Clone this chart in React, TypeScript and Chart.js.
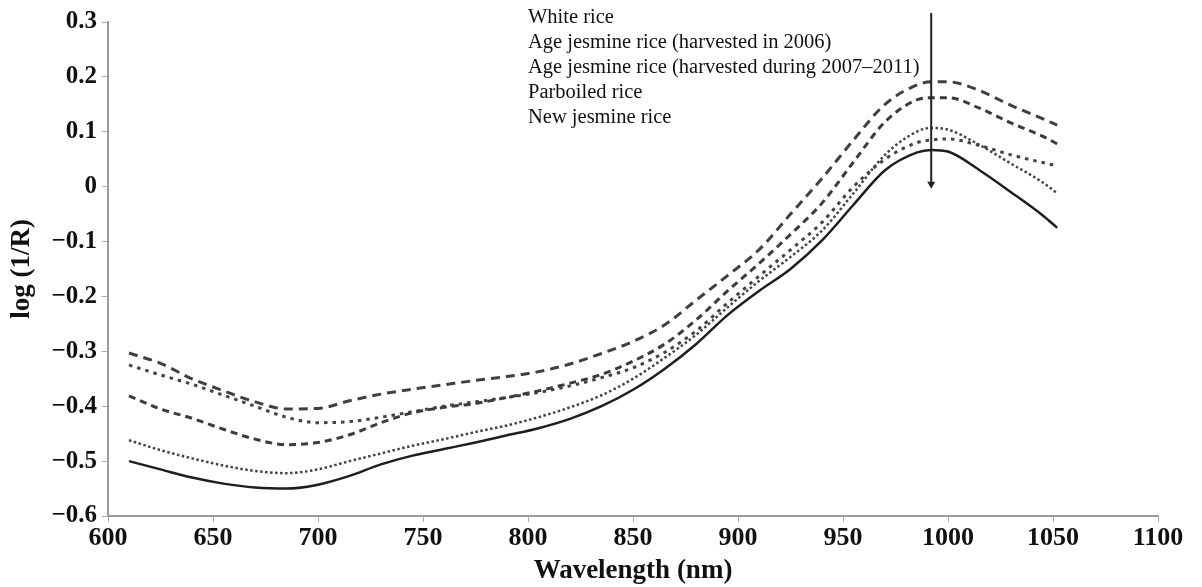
import React, { useEffect, useRef } from "react";
import { Chart, registerables } from "chart.js";

Chart.register(...registerables);

// Wavelength samples (nm)
const wavelengths = [610, 625, 640, 655, 670, 685, 700, 715, 730, 745, 760, 775, 790, 805, 820, 835, 850, 865, 880, 895, 910, 925, 940, 955, 970, 985, 992, 1000, 1015, 1030, 1045, 1052];

// log(1/R) series
const whiteRice = [-0.303, -0.322, -0.35, -0.372, -0.392, -0.405, -0.404, -0.39, -0.378, -0.369, -0.361, -0.353, -0.346, -0.337, -0.323, -0.304, -0.282, -0.252, -0.207, -0.162, -0.115, -0.05, 0.015, 0.085, 0.15, 0.185, 0.191, 0.191, 0.175, 0.148, 0.124, 0.112];
const age2006 = [-0.381, -0.405, -0.422, -0.442, -0.46, -0.47, -0.466, -0.452, -0.43, -0.412, -0.402, -0.395, -0.384, -0.372, -0.358, -0.342, -0.318, -0.287, -0.243, -0.19, -0.14, -0.087, -0.03, 0.045, 0.118, 0.158, 0.162, 0.162, 0.143, 0.116, 0.092, 0.078];
const age2007to2011 = [-0.462, -0.48, -0.495, -0.508, -0.518, -0.522, -0.515, -0.5, -0.486, -0.472, -0.46, -0.447, -0.435, -0.42, -0.402, -0.38, -0.35, -0.312, -0.27, -0.22, -0.172, -0.128, -0.08, -0.012, 0.058, 0.1, 0.107, 0.104, 0.076, 0.042, 0.008, -0.012];
const parboiled = [-0.325, -0.343, -0.36, -0.38, -0.4, -0.42, -0.43, -0.428, -0.42, -0.41, -0.4, -0.392, -0.384, -0.375, -0.363, -0.348, -0.33, -0.302, -0.263, -0.212, -0.163, -0.115, -0.065, 0.0, 0.05, 0.08, 0.085, 0.087, 0.075, 0.058, 0.044, 0.038];
const newJasmine = [-0.5, -0.515, -0.53, -0.541, -0.548, -0.55, -0.543, -0.527, -0.506, -0.49, -0.478, -0.466, -0.453, -0.44, -0.423, -0.4, -0.37, -0.332, -0.287, -0.234, -0.19, -0.15, -0.098, -0.033, 0.03, 0.062, 0.067, 0.064, 0.03, -0.01, -0.052, -0.075];

const seriesLabels = [
  "White rice",
  "Age jesmine rice (harvested in 2006)",
  "Age jesmine rice (harvested during 2007\u20132011)",
  "Parboiled rice",
  "New jesmine rice",
];

const xMin = 600;
const xMax = 1100;
const xStep = 50;
const yMin = -0.6;
const yMax = 0.3;
const yStep = 0.1;

// Arrow annotation (wavelength, from top of plot down to value)
const arrowWavelength = 992;
const arrowBottomValue = 0;
const legendStartWavelength = 800;

const SERIF = "'Liberation Serif', 'Times New Roman', serif";

const toPoints = (vals: number[]) => vals.map((v, i) => ({ x: wavelengths[i], y: v }));

const annotationPlugin = {
  id: "annotations",
  afterDraw(chart: any) {
    const { ctx, chartArea, scales } = chart;
    const xs = scales.x;
    const ys = scales.y;
    ctx.save();
    // legend text
    ctx.font = "20.5px " + SERIF;
    ctx.fillStyle = "#111";
    ctx.textBaseline = "middle";
    ctx.textAlign = "left";
    const lx = xs.getPixelForValue(legendStartWavelength);
    seriesLabels.forEach((t, i) => {
      ctx.fillText(t, lx, chartArea.top - 4 + i * 25);
    });
    // arrow
    const ax = xs.getPixelForValue(arrowWavelength);
    const ay0 = chartArea.top - 9;
    const ay1 = ys.getPixelForValue(arrowBottomValue);
    ctx.strokeStyle = "#222";
    ctx.lineWidth = 2;
    ctx.beginPath();
    ctx.moveTo(ax, ay0);
    ctx.lineTo(ax, ay1 - 3);
    ctx.stroke();
    ctx.fillStyle = "#222";
    ctx.beginPath();
    ctx.moveTo(ax - 4, ay1 - 5);
    ctx.lineTo(ax + 4, ay1 - 5);
    ctx.lineTo(ax, ay1 + 2);
    ctx.closePath();
    ctx.fill();
    ctx.restore();
  },
};

export default function App() {
  const ref = useRef<HTMLCanvasElement | null>(null);

  useEffect(() => {
    if (!ref.current) return;
    const fmt = (v: number) => {
      const r = Math.round(v * 10) / 10;
      if (Math.abs(r) < 1e-9) return "0";
      const s = Math.abs(r).toFixed(1);
      return r < 0 ? "\u2212" + s : s;
    };
    const chart = new Chart(ref.current, {
      type: "line",
      data: {
        datasets: [
          {
            label: seriesLabels[0],
            data: toPoints(whiteRice),
            borderColor: "#404040",
            borderWidth: 3,
            borderDash: [9, 6],
          },
          {
            label: seriesLabels[1],
            data: toPoints(age2006),
            borderColor: "#3c3c3c",
            borderWidth: 3,
            borderDash: [7, 5],
          },
          {
            label: seriesLabels[2],
            data: toPoints(age2007to2011),
            borderColor: "#444",
            borderWidth: 2.5,
            borderDash: [2.5, 2.5],
          },
          {
            label: seriesLabels[3],
            data: toPoints(parboiled),
            borderColor: "#444",
            borderWidth: 3,
            borderDash: [3.5, 5],
          },
          {
            label: seriesLabels[4],
            data: toPoints(newJasmine),
            borderColor: "#1e1e1e",
            borderWidth: 2.5,
          },
        ] as any,
      },
      options: {
        animation: false,
        responsive: false,
        events: [],
        layout: { padding: { top: 22, right: 44, left: 0, bottom: 0 } },
        elements: {
          point: { radius: 0 },
          line: { cubicInterpolationMode: "monotone", fill: false },
        },
        plugins: {
          legend: { display: false },
          tooltip: { enabled: false },
        },
        scales: {
          x: {
            type: "linear",
            min: xMin,
            max: xMax,
            afterFit: (s: any) => {
              s.height = 71;
            },
            ticks: {
              stepSize: xStep,
              color: "#111",
              padding: 1,
              font: { family: SERIF, size: 26, weight: "bold" },
              maxRotation: 0,
              callback: (v: any) => String(v),
            },
            border: { color: "#9a9a9a", width: 2 },
            grid: { display: true, drawOnChartArea: false, tickLength: 6, color: "#aaa" },
            title: {
              display: true,
              text: "Wavelength (nm)",
              color: "#111",
              padding: { top: 0, bottom: 0 },
              font: { family: SERIF, size: 27, weight: "bold" },
            },
          },
          y: {
            type: "linear",
            min: yMin,
            max: yMax,
            afterFit: (s: any) => {
              s.width = 108;
            },
            ticks: {
              stepSize: yStep,
              color: "#111",
              padding: 5,
              font: { family: SERIF, size: 25, weight: "bold" },
              callback: (v: any) => fmt(Number(v)),
            },
            border: { color: "#9a9a9a", width: 2 },
            grid: { display: true, drawOnChartArea: false, tickLength: 6, color: "#aaa" },
            title: {
              display: true,
              text: "log (1/R)",
              color: "#111",
              padding: { top: 6, bottom: 0 },
              font: { family: SERIF, size: 27, weight: "bold" },
            },
          },
        },
      } as any,
      plugins: [annotationPlugin],
    });
    return () => chart.destroy();
  }, []);

  return (
    <div style={{ position: "absolute", left: 0, top: 0, width: 1202, height: 587, background: "#fff" }}>
      <canvas ref={ref} width={1202} height={587} />
    </div>
  );
}
